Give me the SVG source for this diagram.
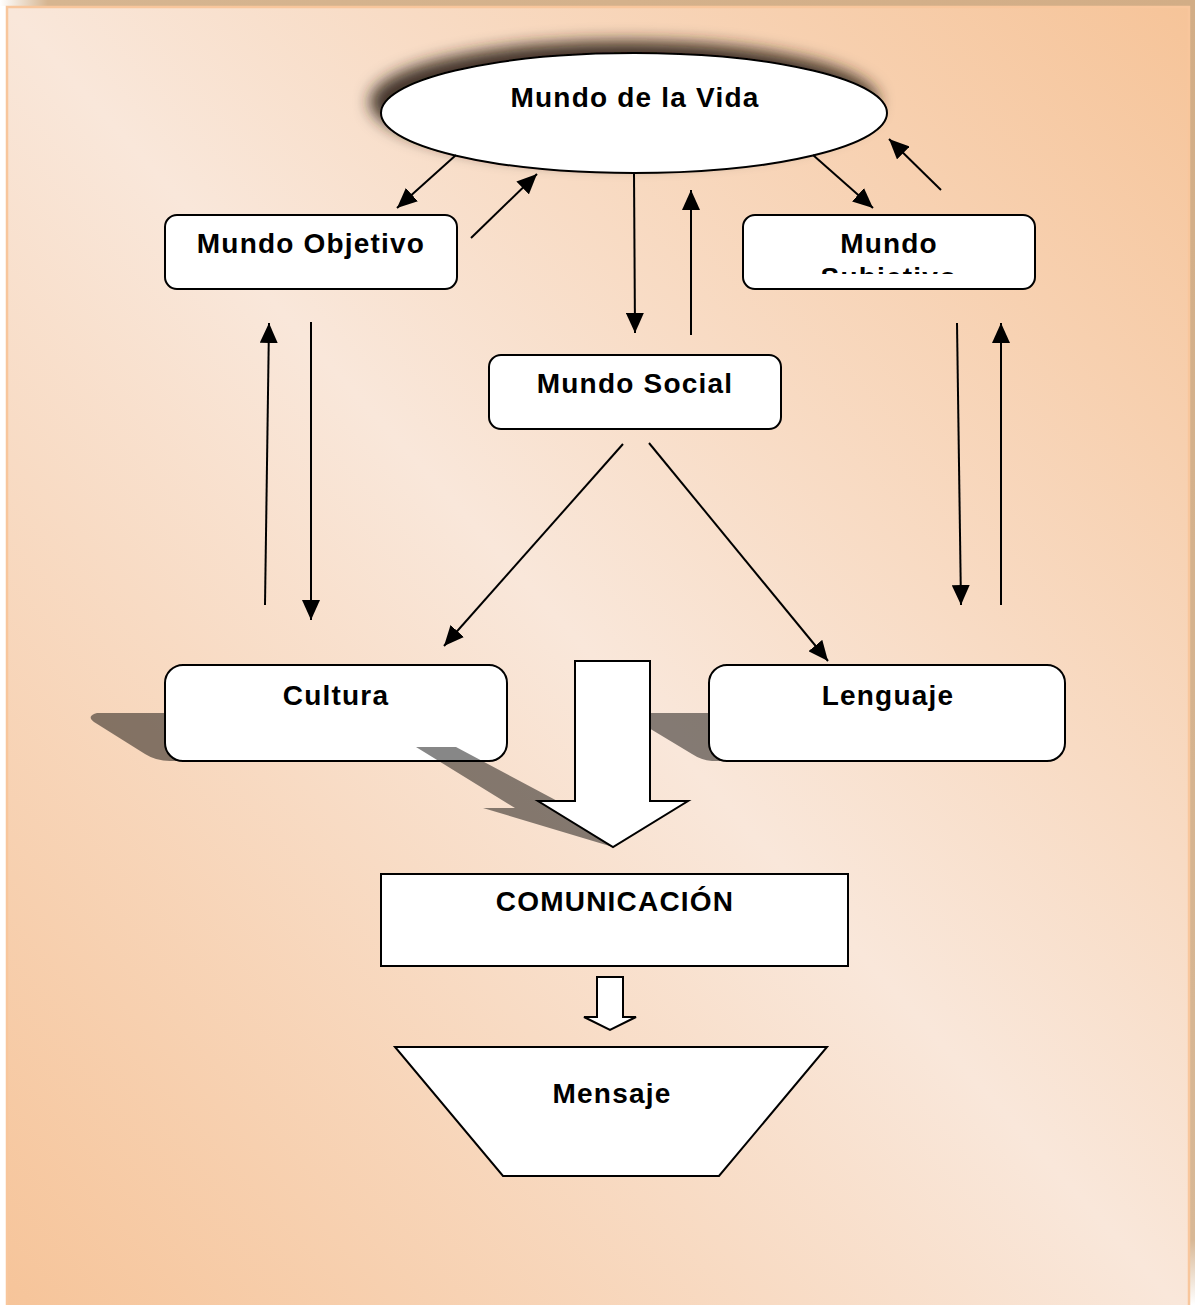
<svg xmlns="http://www.w3.org/2000/svg" width="1195" height="1305" viewBox="0 0 1195 1305">
<defs>
<style>
.box{fill:#fff;stroke:#000;stroke-width:2}
.lbl{font-family:"Liberation Sans",Arial,sans-serif;font-weight:bold;font-size:28px;fill:#000;text-anchor:middle;letter-spacing:1.2px}
.con line{stroke:#000;stroke-width:2;marker-end:url(#ah)}
.shd{fill:#000;fill-opacity:0.47}
</style>
<linearGradient id="bg" x1="1" y1="0" x2="0" y2="1">
<stop offset="0" stop-color="#f6c499"/>
<stop offset="0.5" stop-color="#f9e7da"/>
<stop offset="1" stop-color="#f6c499"/>
</linearGradient>
<linearGradient id="topband" x1="0" y1="0" x2="1" y2="0">
<stop offset="0" stop-color="#ffffff"/>
<stop offset="0.04" stop-color="#d6b590"/>
<stop offset="1" stop-color="#d2ad86"/>
</linearGradient>
<linearGradient id="rightband" x1="0" y1="0" x2="0" y2="1">
<stop offset="0" stop-color="#d2ad86"/>
<stop offset="0.95" stop-color="#d8b896"/>
<stop offset="1" stop-color="#ffffff"/>
</linearGradient>
<filter id="eshadow" x="-15%" y="-60%" width="130%" height="220%">
<feGaussianBlur in="SourceAlpha" stdDeviation="8"/>
<feOffset dx="-10" dy="-11" result="b"/>
<feFlood flood-color="#2e2218" flood-opacity="0.9"/>
<feComposite in2="b" operator="in" result="s"/>
<feMerge><feMergeNode in="s"/><feMergeNode in="SourceGraphic"/></feMerge>
</filter>
<marker id="ah" markerWidth="20" markerHeight="18" refX="20" refY="9" orient="auto" markerUnits="userSpaceOnUse">
<path d="M0,0 L20,9 L0,18 Z" fill="#000"/>
</marker>
<clipPath id="subclip"><rect x="745" y="217" width="288" height="57"/></clipPath>
</defs>

<!-- page -->
<rect x="0" y="0" width="1195" height="1305" fill="#ffffff"/>
<rect x="0" y="0" width="1195" height="6" fill="url(#topband)"/>
<rect x="1190" y="0" width="5" height="1305" fill="url(#rightband)"/>
<rect x="7" y="7" width="1182" height="1310" fill="url(#bg)" stroke="#f8c69c" stroke-width="2.5"/>

<!-- shadows behind boxes -->
<path class="shd" d="M97,713 L190,713 L190,761 L170,761 Q156,761 145,754 L94,722 Q86,716 97,713 Z"/>
<path class="shd" d="M624,713 L720,713 L720,761 L712,761 Q701,760 692,754 Z"/>

<g id="mundo-vida">
<ellipse cx="634" cy="113" rx="253" ry="60" class="box" filter="url(#eshadow)"/>
<text class="lbl" x="635" y="107">Mundo de la Vida</text>
</g>

<g id="mundo-objetivo">
<rect x="165" y="215" width="292" height="74" rx="12" class="box"/>
<text class="lbl" x="311" y="253">Mundo Objetivo</text>
</g>

<g id="mundo-subjetivo">
<rect x="743" y="215" width="292" height="74" rx="12" class="box"/>
<g clip-path="url(#subclip)">
<text class="lbl" x="889" y="253" letter-spacing="1.5">Mundo</text>
<text class="lbl" x="889" y="287" letter-spacing="1.5">Subjetivo</text>
</g>
</g>

<g id="mundo-social">
<rect x="489" y="355" width="292" height="74" rx="12" class="box"/>
<text class="lbl" x="635" y="393" letter-spacing="1">Mundo Social</text>
</g>

<g id="cultura">
<rect x="165" y="665" width="342" height="96" rx="18" class="box"/>
<text class="lbl" x="336" y="705">Cultura</text>
</g>

<g id="lenguaje">
<rect x="709" y="665" width="356" height="96" rx="18" class="box"/>
<text class="lbl" x="888" y="705" letter-spacing="1.3">Lenguaje</text>
</g>

<!-- big arrow shadow and big arrow -->
<path class="shd" d="M416,747 L456,747 L578,812 L613,847 L483,808 L515,808 Z"/>
<g id="flecha-grande">
<path d="M575,661 L650,661 L650,801 L688,801 L613,847 L538,801 L575,801 Z" class="box"/>
</g>

<g id="comunicacion">
<rect x="381" y="874" width="467" height="92" class="box"/>
<text class="lbl" x="615" y="911" letter-spacing="0" font-size="27.5">COMUNICACIÓN</text>
</g>

<g id="flecha-pequena">
<path d="M597,977 L623,977 L623,1017 L636,1017 L610,1030 L584,1017 L597,1017 Z" class="box" stroke-width="1.5"/>
</g>

<g id="mensaje">
<path d="M395,1047 L827,1047 L719,1176 L503,1176 Z" class="box"/>
<text class="lbl" x="612" y="1103" letter-spacing="2.2">Mensaje</text>
</g>

<g id="connectors" class="con">
<line x1="456" y1="155" x2="397" y2="208"/>
<line x1="471" y1="238" x2="537" y2="174"/>
<line x1="634" y1="172" x2="635" y2="333"/>
<line x1="691" y1="335" x2="691" y2="190"/>
<line x1="813" y1="155" x2="873" y2="208"/>
<line x1="941" y1="190" x2="889" y2="139"/>
<line x1="265" y1="605" x2="269" y2="323"/>
<line x1="311" y1="322" x2="311" y2="620"/>
<line x1="623" y1="444" x2="444" y2="646"/>
<line x1="649" y1="443" x2="828" y2="661"/>
<line x1="957" y1="323" x2="961" y2="605"/>
<line x1="1001" y1="605" x2="1001" y2="323"/>
</g>
</svg>
